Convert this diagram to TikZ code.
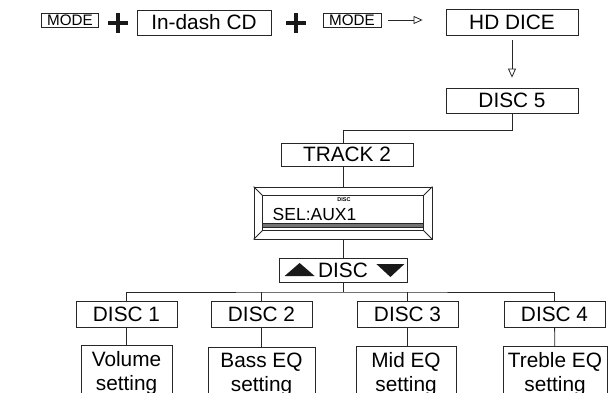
\documentclass[tikz,border=0pt]{standalone}
\usepackage{fontspec}
\setmainfont{Liberation Sans}
\usetikzlibrary{arrows.meta,
  calc,
  positioning
}
\tikzstyle{menubox} = [draw=black!85, line width=0.8, inner sep=0,
  minimum height=25, text height=14.8, text depth=0,
  font=\fontsize{20.8}{24}\selectfont]
\tikzstyle{keybox} = [draw=black!85, line width=0.8, inner sep=0,
  minimum width=57, minimum height=14, text height=10.8, text depth=0,
  font=\fontsize{15.2}{15.2}\selectfont]
\tikzstyle{setbox} = [draw=black!85, line width=0.8, inner xsep=0,
  inner ysep=6, anchor=north, align=center,
  font=\fontsize{20.8}{24}\selectfont]
\tikzstyle{wire} = [line width=0.8, black!85]
\tikzstyle{flowarrow} = [wire, -{Triangle[open, length=9, width=8]}]
\tikzstyle{plussign} = [line width=3.6, black!90]

\begin{document}
\begin{tikzpicture}[x=1pt, y=-1pt]
  \clip (0,0) rectangle (608,393);

  % top row: key combination
  \node[keybox] (key1) at (70,20) {MODE};
  \coordinate (plusA) at (118,23.3);
  \node[menubox, minimum width=134] (cd) at (204,22.5) {In-dash CD};
  \coordinate (plusB) at (296,23.3);
  \node[keybox, minimum width=58] (key2) at (352,20) {MODE};
  \node[menubox, minimum width=132, minimum height=26] (hd) at (512,22) {HD DICE};
  \foreach \p in {plusA, plusB} {
    \draw[plussign] ($(\p)+(-10,0)$) -- ($(\p)+(10,0)$);
    \draw[plussign] ($(\p)+(0,-10)$) -- ($(\p)+(0,10)$);
  }
  \draw[flowarrow, shorten <=7, shorten >=23] (key2.east) -- (key2.east -| hd.west);

  \node[menubox, minimum width=132] (disc5) at (512,100.5) {DISC 5};
  \draw[flowarrow, shorten <=5, shorten >=10] (hd) -- (disc5);

  \node[menubox, minimum width=132, minimum height=23] (track) at (347,154.5) {TRACK 2};

  % display
  \node[draw=black!85, line width=0.8, minimum width=178, minimum height=52] (disp) at (343,213) {};
  \coordinate (dnw) at ($(disp.north west)+(9,9)$);
  \coordinate (dne) at ($(disp.north east)+(-9,9)$);
  \coordinate (dsw) at ($(disp.south west)+(9,-9)$);
  \coordinate (dse) at ($(disp.south east)+(-9,-9)$);
  \draw[wire] (dnw) rectangle (dse);
  \draw[wire] (disp.north west) -- (dnw) (disp.north east) -- (dne)
    (disp.south west) -- (dsw) (disp.south east) -- (dse);
  \draw[wire, fill=black!55] (dnw |- 0,223.5) rectangle (dse |- 0,227.5);
  \node[font=\fontsize{5.5}{5.5}\bfseries\selectfont, inner sep=0] (dtag) at (344,200) {DISC};
  \node[anchor=base west, inner sep=0, font=\fontsize{17.5}{17.5}\selectfont] (dtext) at (272.5,220) {SEL:AUX1};

  \coordinate (split) at (343,130);
  \draw[wire] (disc5.south) |- (split) -- (split |- track.north);
  \draw[wire] (disp.north |- track.south) -- (disp.north);

  % disc select
  \node[menubox, minimum width=128, minimum height=24] (sel) at (343,270) {DISC};
  \fill[black!90] ($(sel.west)+(6,6)$) -- ($(sel.west)+(36,6)$) -- ($(sel.west)+(21,-7)$) -- cycle;
  \fill[black!90] ($(sel.east)+(-31,-6)$) -- ($(sel.east)+(-3,-6)$) -- ($(sel.east)+(-17,7)$) -- cycle;
  \draw[wire] (disp.south) -- (sel.north);

  % discs and settings
  \node[menubox, minimum width=101, minimum height=26] (d1) at (126.5,314) {DISC 1};
  \node[menubox, minimum width=101, minimum height=26] (d2) at (261.5,314) {DISC 2};
  \node[menubox, minimum width=101, minimum height=26] (d3) at (407.5,314) {DISC 3};
  \node[menubox, minimum width=101, minimum height=26] (d4) at (554.5,314) {DISC 4};
  \coordinate (bus) at (343,292);
  \draw[wire] (sel.south) -- (bus);
  \draw[wire] (d1.north) |- (bus) -| (d4.north);
  \draw[wire] (d2.north) -- (d2.north |- bus);
  \draw[wire] (d3.north) -- (d3.north |- bus);

  \node[setbox, minimum width=91] (vol) at (126.5,345) {Volume\\setting};
  \node[setbox, minimum width=107] (bass) at (261.5,347) {Bass EQ\\setting};
  \node[setbox, minimum width=100] (mid) at (406,346) {Mid EQ\\setting};
  \node[setbox, minimum width=104] (treble) at (555,346) {Treble EQ\\setting};
  \draw[wire] (d1) -- (vol);
  \draw[wire] (d2) -- (bass);
  \draw[wire] (d3.south) -- (d3.south |- mid.north);
  \draw[wire] (d4) -- (treble);
\end{tikzpicture}
\end{document}
